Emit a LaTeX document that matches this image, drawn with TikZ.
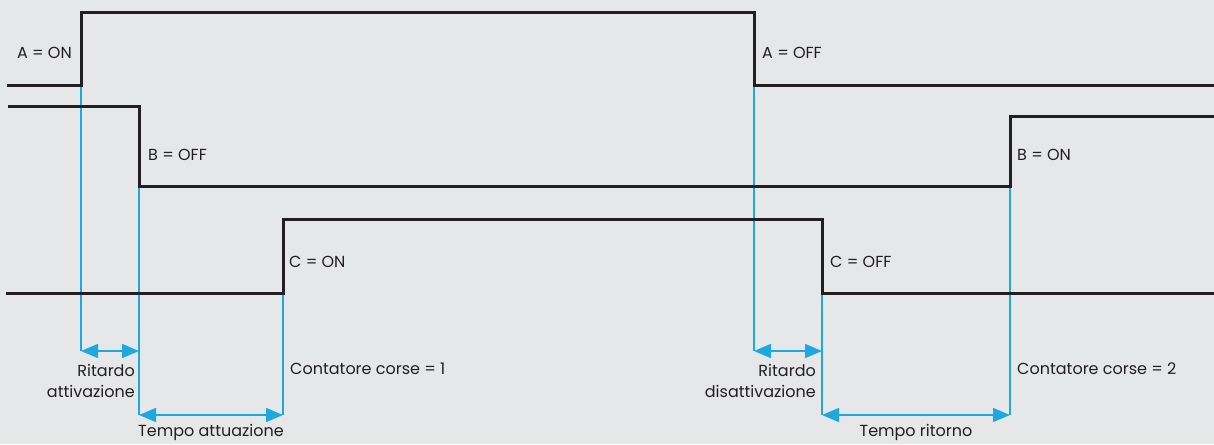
\documentclass[tikz,border=0pt]{standalone}
\usepackage{fontspec}
\setmainfont{Poppins}
\usetikzlibrary{arrows.meta}
\definecolor{bg}{HTML}{E6E7E9}
\definecolor{cyanl}{HTML}{1EA8E0}
\definecolor{ink}{HTML}{231F20}
\begin{document}
\begin{tikzpicture}[x=1pt,y=-1pt,
  sig/.style={draw=ink,line width=3pt,line join=miter},
  guide/.style={draw=cyanl,line width=1.6pt},
  dim/.style={draw=cyanl,line width=1.6pt,{Triangle[length=17pt,width=14pt]}-{Triangle[length=17pt,width=14pt]}},
  lbl/.style={font=\fontsize{16}{21}\selectfont,text=ink,inner sep=0pt},
  lblr/.style={lbl,anchor=east,align=right},
  lbll/.style={lbl,anchor=west,align=left}]
\fill[bg] (0,0) rectangle (1214,444);
\useasboundingbox (0,0) rectangle (1214,444);
% coordinates
\coordinate (a0) at (7,85); \coordinate (a1) at (81,85); \coordinate (a2) at (81,13);
\coordinate (a3) at (754,13); \coordinate (a4) at (754,85); \coordinate (a5) at (1214,85);
\coordinate (b0) at (8,106); \coordinate (b1) at (139,106); \coordinate (b2) at (139,186);
\coordinate (b3) at (1010,186); \coordinate (b4) at (1010,116); \coordinate (b5) at (1214,116);
\coordinate (c0) at (6,293); \coordinate (c1) at (283,293); \coordinate (c2) at (283,219);
\coordinate (c3) at (822,219); \coordinate (c4) at (822,293); \coordinate (c5) at (1214,293);
\coordinate (g1) at (81,351); \coordinate (g2) at (139,415); \coordinate (g3) at (283,415);
\coordinate (g4) at (754,351); \coordinate (g5) at (822,415); \coordinate (g6) at (1010,415);
\coordinate (g2u) at (139,351); \coordinate (g5u) at (822,351);
% guides
\draw[guide] (a1) -- (g1);
\draw[guide] (b2) -- (g2);
\draw[guide] (c1) -- (g3);
\draw[guide] (a4) -- (g4);
\draw[guide] (c4) -- (g5);
\draw[guide] (b3) -- (g6);
% dimension arrows
\draw[dim] (g1) -- (g2u);
\draw[dim] (g2) -- (g3);
\draw[dim] (g4) -- (g5u);
\draw[dim] (g5) -- (g6);
% signals
\draw[sig] (a0) -- (a1) -- (a2) -- (a3) -- (a4) -- (a5);
\draw[sig] (b0) -- (b1) -- (b2) -- (b3) -- (b4) -- (b5);
\draw[sig] (c0) -- (c1) -- (c2) -- (c3) -- (c4) -- (c5);
% labels
\node[lblr] (lAon) at (72,53) {A = ON};
\node[lbll] (lBoff) at (148,155) {B = OFF};
\node[lbll] (lCon) at (289,262) {C = ON};
\node[lbll] (lAoff) at (762,53) {A = OFF};
\node[lbll] (lBon) at (1017,155) {B = ON};
\node[lbll] (lCoff) at (830,262) {C = OFF};
\node[lblr] (lRa) at (135,381) {Ritardo\\attivazione};
\node[lbll] (lC1) at (290,369) {Contatore corse = 1};
\node[lbl] (lTa) at (211,432) {Tempo attuazione};
\node[lblr] (lRd) at (816,381) {Ritardo\\disattivazione};
\node[lbll] (lC2) at (1017,369) {Contatore corse = 2};
\node[lbl] (lTr) at (916,432) {Tempo ritorno};
\end{tikzpicture}
\end{document}
